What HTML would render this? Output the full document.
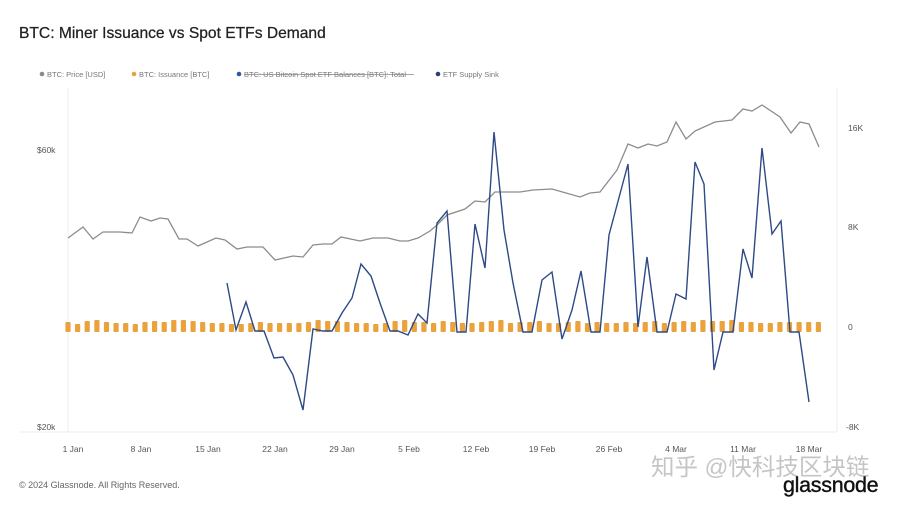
<!DOCTYPE html>
<html><head><meta charset="utf-8"><style>
html,body{margin:0;padding:0;background:#fff;}
svg{display:block;font-family:"Liberation Sans","Noto Sans CJK SC",sans-serif;}
</style></head><body>
<svg id="s" width="900" height="507" viewBox="0 0 900 507" xmlns="http://www.w3.org/2000/svg">
<rect width="900" height="507" fill="#fff"/>
<text x="19" y="38" font-size="15.6" fill="#222" stroke="#222" stroke-width="0.25">BTC: Miner Issuance vs Spot ETFs Demand</text>
<g font-size="7.5" fill="#777">
<circle cx="42" cy="74" r="2.3" fill="#8a8a8a"/><text x="47" y="77">BTC: Price [USD]</text>
<circle cx="134" cy="74" r="2.3" fill="#e5a340"/><text x="139" y="77">BTC: Issuance [BTC]</text>
<circle cx="239" cy="74" r="2.3" fill="#2d5a9a"/><text x="244" y="77">BTC: US Bitcoin Spot ETF Balances [BTC]: Total</text>
<line x1="244" y1="74.5" x2="414" y2="74.5" stroke="#888" stroke-width="0.7"/>
<circle cx="438" cy="74" r="2.3" fill="#2d3e7a"/><text x="443" y="77">ETF Supply Sink</text>
</g>
<line x1="68" y1="88" x2="68" y2="432" stroke="#ececec"/>
<line x1="837" y1="88" x2="837" y2="432" stroke="#ececec"/>
<line x1="20" y1="432" x2="837" y2="432" stroke="#ececec"/>
<g font-size="8.5" fill="#555">
<text x="37" y="153">$60k</text><text x="37" y="430">$20k</text>
<text x="848" y="131">16K</text><text x="848" y="230">8K</text><text x="848" y="330">0</text><text x="846" y="430">-8K</text>
<g text-anchor="middle">
<text x="73" y="452">1 Jan</text><text x="141" y="452">8 Jan</text><text x="208" y="452">15 Jan</text><text x="275" y="452">22 Jan</text><text x="342" y="452">29 Jan</text><text x="409" y="452">5 Feb</text><text x="476" y="452">12 Feb</text><text x="542" y="452">19 Feb</text><text x="609" y="452">26 Feb</text><text x="676" y="452">4 Mar</text><text x="743" y="452">11 Mar</text><text x="809" y="452">18 Mar</text>
</g></g>
<g id="bars" fill="#e9a23c"></g>
<polyline fill="none" stroke="#8c8c8c" stroke-width="1.3" points="68,238 83,227 93,239 103,232 120,232 132,233 140,217 151,221 160,218 168,219 179,239 187,239 198,246 216,238 225,240 237,249 247,247 263,247 275,260 293,256 303,257 313,245 323,244 332,244 341,237 360,241 373,238 388,238 400,241 408,241 418,238 430,231 437,225 447,215 465,209 475,201 485,202 495,192 520,192 533,190 552,189 580,197 590,193 600,192 617,170 628,144 638,148 648,144 657,146 667,142 676,122 686,139 695,131 715,122 732,120 743,109 752,111 762,105 780,117 791,133 800,122 809,124 819,147"/>
<polyline fill="none" stroke="#2d4a86" stroke-width="1.4" points="227,283 236,330 246,302 255,331 264,331 274,358 283,357 293,375 303,410 313,329 323,331 332,331 342,313 352,298 361,264 371,276 380,303 390,331 398,331 408,335 418,314 427,323 437,223 447,211 457,332 466,332 475,224 485,268 494,132 504,230 513,283 523,332 532,332 542,280 552,272 562,339 572,310 581,271 591,332 600,332 609,235 628,164 638,327 647,257 657,332 667,332 676,294 686,299 695,162 704,184 714,370 723,332 733,332 743,249 752,278 762,148 772,234 781,221 790,332 799,332 809,402"/>
<text x="19" y="488" font-size="9" fill="#666">© 2024 Glassnode. All Rights Reserved.</text>
<text x="651" y="475" font-size="23.5" fill="#bbb" opacity="0.85">知乎 @快科技区块链</text>
<text x="783" y="492" font-size="21.5" fill="#111" stroke="#111" stroke-width="0.4" letter-spacing="-0.3">glassnode</text>
</svg>
<script>
var g=document.getElementById('bars'),h="";
var hs=[10,8,11,12,10,9,9,8,10,11,10,12,12,11,10,9,9,8,8,9,10,9,9,9,9,10,12,11,11,10,9,9,8,9,11,12,10,10,9,11,10,9,9,10,11,12,9,10,10,11,9,9,10,11,9,10,9,9,10,9,10,11,9,10,11,10,12,11,11,12,10,10,9,9,10,10,10,10,10];
for(var i=0;i<79;i++){var x=68+i*9.62,hh=hs[i%hs.length];h+='<rect x="'+(x-2.6).toFixed(1)+'" y="'+(332-hh)+'" width="5.2" height="'+hh+'" rx="1"/>';}
g.innerHTML=h;
</script>
</body></html>
